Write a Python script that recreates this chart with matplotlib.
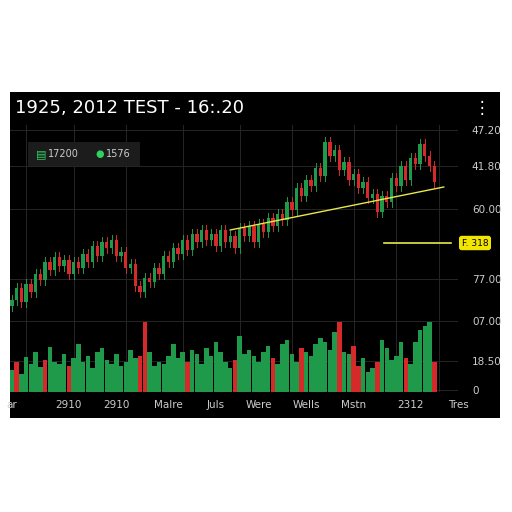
import matplotlib
matplotlib.use('Agg')
import matplotlib.pyplot as plt
import numpy as np

title = '1925, 2012 TEST - 16:.20'
closes = [92, 104, 90, 108, 100, 118, 112, 130, 122, 135,
          126, 132, 118, 130, 124, 138, 130, 146, 136, 150,
          144, 152, 136, 140, 124, 128, 106, 100, 114, 110,
          124, 118, 136, 130, 144, 138, 152, 142, 158, 150,
          162, 152, 158, 146, 162, 150, 156, 144, 164, 156,
          166, 150, 168, 160, 174, 166, 178, 172, 190, 182,
          204, 196, 212, 206, 224, 216, 250, 236, 242, 222,
          230, 212, 218, 204, 210, 194, 198, 180, 196, 190,
          214, 206, 226, 212, 234, 228, 248, 236, 226, 210]
volumes = [22, 30, 18, 35, 28, 40, 25, 32, 45, 30,
           28, 38, 26, 34, 48, 30, 36, 24, 40, 44,
           32, 28, 38, 26, 30, 42, 34, 36, 70, 40,
           26, 30, 28, 36, 48, 34, 40, 30, 42, 38,
           28, 44, 36, 50, 40, 30, 24, 32, 56, 38,
           42, 36, 30, 40, 46, 34, 28, 48, 52, 38,
           30, 44, 40, 36, 48, 54, 50, 42, 60, 70,
           40, 38, 46, 26, 34, 20, 24, 30, 52, 44,
           32, 36, 50, 34, 28, 50, 62, 66, 70, 30]
# 1 = green volume bar, 0 = red
vol_up = [1, 0, 1, 1, 1, 1, 1, 0, 1, 1,
          1, 1, 0, 1, 1, 1, 1, 1, 1, 1,
          1, 1, 1, 1, 1, 1, 1, 0, 0, 1,
          1, 1, 1, 1, 1, 1, 1, 0, 1, 1,
          1, 1, 1, 1, 1, 1, 1, 0, 1, 1,
          1, 1, 1, 1, 1, 0, 1, 1, 1, 1,
          1, 0, 1, 1, 1, 1, 1, 1, 1, 0,
          1, 1, 0, 0, 1, 1, 1, 0, 1, 1,
          1, 1, 1, 0, 1, 1, 1, 1, 1, 0]
tick_vals = [262, 226, 183, 113, 71, 31, 2]
tick_labels = ['47.20', '41.80', '60.00', '77.00', '07.00', '18.50', '0']
x_pos = [0, 12, 22, 33, 43, 52, 62, 72, 84, 94]
x_labels = ['ar', '2910', '2910', 'Malre', 'Juls', 'Were', 'Wells', 'Mstn', '2312', 'Tres']
trend_x = [46, 91]
trend_y = [162, 205]
level_x = [78.5, 92.5]
level_y = [149, 149]
level_label = 'F. 318'

green = '#1e9a4a'
red = '#d62a2a'

fig = plt.figure(figsize=(5.12, 5.12), dpi=100, facecolor='white')
panel = fig.add_axes([10/512, 1 - 418/512, 490/512, 326/512])
panel.set_facecolor('black')
panel.set_xticks([]); panel.set_yticks([])
for s in panel.spines.values():
    s.set_visible(False)

ax = fig.add_axes([10/512, 1 - 392/512, 448/512, 267/512])
ax.set_facecolor('black')
for s in ax.spines.values():
    s.set_visible(False)
ax.set_xlim(-0.4, 92.9)
ax.set_ylim(0, 267)

for gx in [3, 13, 24, 36, 48, 59, 72, 81, 90]:
    ax.axvline(gx, color='#262626', lw=0.7, zorder=0)
for gy in tick_vals:
    ax.axhline(gy, color='#262626', lw=0.7, zorder=0)

opens = [closes[0] - 6] + closes[:-1]
for i, (o, c) in enumerate(zip(opens, closes)):
    col = green if c >= o else red
    lo, hi = min(o, c), max(o, c)
    ax.plot([i, i], [lo - 5, hi + 5], color=col, lw=0.7, zorder=2)
    ax.bar(i, max(hi - lo, 2), bottom=lo, width=0.7, color=col, zorder=3)

vol_colors = [green if u else red for u in vol_up]
ax.bar(range(len(volumes)), volumes, width=0.95, color=vol_colors, zorder=1)

ax.plot(trend_x, trend_y, color='#e8e84a', lw=1.0, zorder=4)
ax.plot(level_x, level_y, color='#e8e84a', lw=1.2, zorder=4)

ax.yaxis.tick_right()
ax.set_yticks(tick_vals)
ax.set_yticklabels(tick_labels, color='#cccccc', fontsize=7.5)
ax.tick_params(axis='y', length=0, pad=10)
ax.set_xticks(x_pos)
ax.set_xticklabels(x_labels, color='#cccccc', fontsize=7.5)
ax.tick_params(axis='x', length=0, pad=6)

fig.text(15/512, 1 - 108/512, title, color='white', fontsize=13, va='center')
fig.text(482/512, 1 - 108/512, '\u22ee', color='white', fontsize=12, va='center', ha='center')
fig.text(475/512, 1 - 243/512, level_label, color='black', fontsize=6.5, va='center', ha='center',
         bbox=dict(boxstyle='round,pad=0.3', fc='#f2e600', ec='none'))

leg = fig.add_axes([28/512, 1 - 166/512, 112/512, 24/512])
leg.set_facecolor('#1c1c1c')
leg.set_xticks([]); leg.set_yticks([])
for s in leg.spines.values():
    s.set_visible(False)
leg.text(0.07, 0.5, '\u25a4', color='#2fd060', fontsize=8, va='center', transform=leg.transAxes)
leg.text(0.18, 0.5, '17200', color='#cccccc', fontsize=7, va='center', transform=leg.transAxes)
leg.text(0.6, 0.5, '\u25cf', color='#2fd060', fontsize=7, va='center', transform=leg.transAxes)
leg.text(0.7, 0.5, '1576', color='#cccccc', fontsize=7, va='center', transform=leg.transAxes)

fig.savefig('out.png', dpi=100, facecolor='white')
